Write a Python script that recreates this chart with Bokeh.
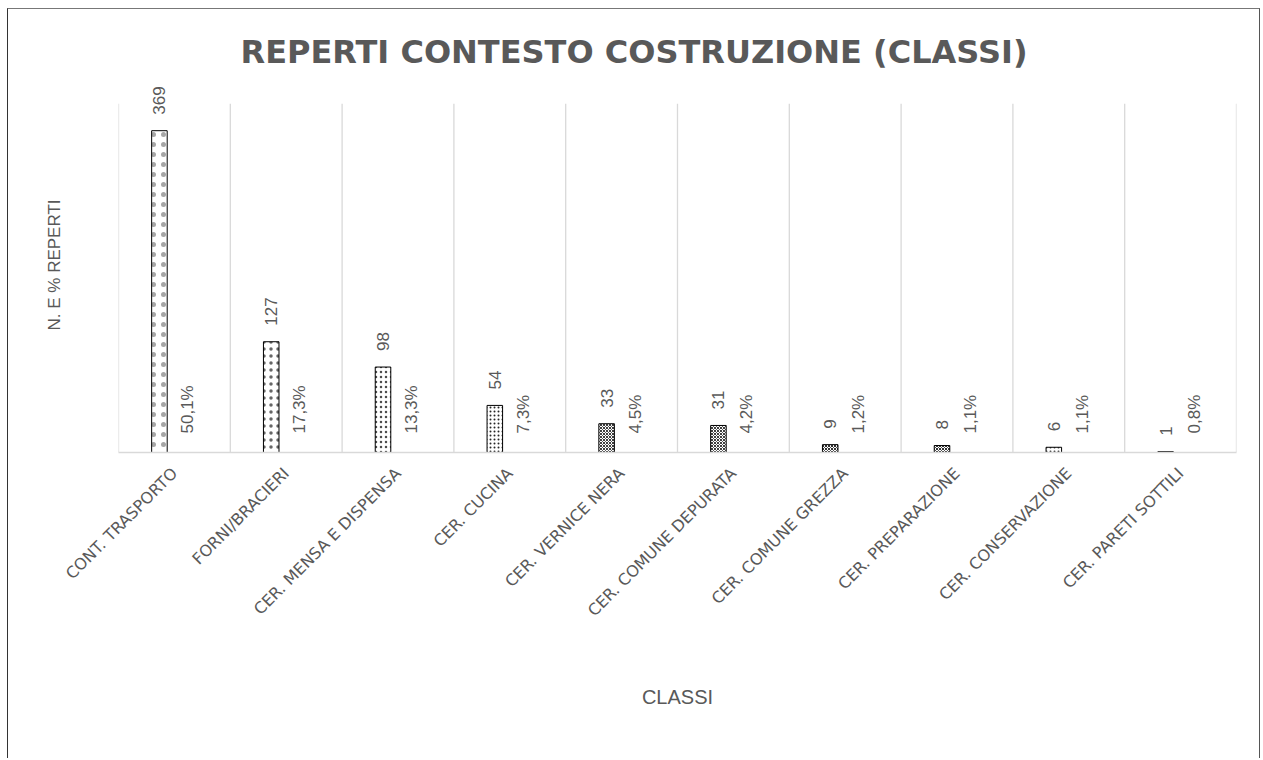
import math
from bokeh.plotting import figure
from bokeh.models import ColumnDataSource, FactorRange, Range1d, FixedTicker, Title, LabelSet
from bokeh.transform import dodge
from bokeh.core.properties import value
from bokeh.embed import file_html
from bokeh.resources import INLINE

# ---- data ----
categories = ["CONT. TRASPORTO", "FORNI/BRACIERI", "CER. MENSA E DISPENSA", "CER. CUCINA",
              "CER. VERNICE NERA", "CER. COMUNE DEPURATA", "CER. COMUNE GREZZA",
              "CER. PREPARAZIONE", "CER. CONSERVAZIONE", "CER. PARETI SOTTILI"]
counts = [369, 127, 98, 54, 33, 31, 9, 8, 6, 1]
percent_labels = ["50,1%", "17,3%", "13,3%", "7,3%", "4,5%", "4,2%", "1,2%", "1,1%", "1,1%", "0,8%"]
percent_values = [0, 0, 0, 0, 0, 0, 0, 0, 0, 0]  # second series drawn as zero-height (label only)

# ---- styles (Excel-like dotted pattern fills) ----
hatch_patterns = ["dot", "dot", "dot", "dot", "diagonal_cross", "diagonal_cross",
                  "diagonal_cross", "diagonal_cross", "dot", "dot"]
hatch_scales = [10, 7, 5, 4, 3, 3, 3, 3, 4, 2]
hatch_weights = [1, 1, 1, 1, 1, 1, 1, 1, 1, 1]
hatch_alphas = [0.35, 0.6, 0.7, 0.85, 0.75, 0.75, 0.8, 0.8, 0.8, 1]

TEXT = "#595959"
GRID = "#d9d9d9"

src = ColumnDataSource(dict(
    cat=categories,
    count=counts,
    count_label=[str(c) for c in counts],
    pct=percent_values,
    pct_label=percent_labels,
    pattern=hatch_patterns,
    hscale=hatch_scales,
    hweight=hatch_weights,
    halpha=hatch_alphas,
))

p = figure(x_range=FactorRange(factors=categories, range_padding=0),
           y_range=Range1d(0, 430),
           width=1253, height=750,
           output_backend="svg", toolbar_location=None,
           min_border_left=110, min_border_right=25,
           min_border_top=68, min_border_bottom=307)
p.styles = {"margin-left": "7px", "margin-top": "8px",
            "border-left": "1px solid #333333", "border-top": "1px solid #777777",
            "border-right": "1px solid #555555"}
p.outline_line_color = None
p.background_fill_color = "white"
p.border_fill_color = "white"

p.title = Title(text="REPERTI CONTESTO COSTRUZIONE (CLASSI)", align="left",
                text_font="DejaVu Sans", text_font_size="32px", text_font_style="bold",
                text_color=TEXT, offset=122, standoff=14)

# grid lines between categories (up to 400)
bounds = list(range(len(categories) + 1))
p.segment(x0=bounds, y0=[0] * len(bounds), x1=bounds, y1=[400] * len(bounds),
          line_color=GRID, line_width=1.3)
p.xgrid.grid_line_color = None
p.ygrid.grid_line_color = None

BAR_OFF = -0.134
PCT_OFF = 0.121
p.vbar(x=dodge("cat", BAR_OFF, range=p.x_range), top="count", width=0.139, source=src,
       fill_color="white", line_color="black", line_width=1,
       hatch_pattern="pattern", hatch_scale="hscale", hatch_weight="hweight",
       hatch_alpha="halpha", hatch_color="black")

vals = LabelSet(x=dodge("cat", BAR_OFF, range=p.x_range), y="count", text="count_label",
                source=src, angle=math.pi / 2, text_align="left", text_baseline="middle",
                y_offset=16, text_font=value("Liberation Sans"), text_font_size="17px",
                text_color=TEXT)
pcts = LabelSet(x=dodge("cat", PCT_OFF, range=p.x_range), y="pct", text="pct_label",
                source=src, angle=math.pi / 2, text_align="left", text_baseline="middle",
                y_offset=19, text_font=value("Liberation Sans"), text_font_size="17px",
                text_color=TEXT)
p.add_layout(vals)
p.add_layout(pcts)

# x axis
xa = p.xaxis[0]
xa.axis_line_color = GRID
xa.axis_line_width = 1.5
xa.major_tick_line_color = None
xa.minor_tick_line_color = None
xa.major_label_orientation = math.pi / 4
xa.major_label_text_font = "DejaVu Sans"
xa.major_label_text_font_size = "16px"
xa.major_label_text_color = TEXT
xa.major_label_standoff = 12
xa.axis_label = "CLASSI"
xa.axis_label_text_font = "Liberation Sans"
xa.axis_label_text_font_size = "20px"
xa.axis_label_text_font_style = "normal"
xa.axis_label_text_color = TEXT
xa.axis_label_standoff = 56

# y axis
ya = p.yaxis[0]
ya.ticker = FixedTicker(ticks=[])
ya.axis_line_color = None
ya.major_tick_line_color = None
ya.minor_tick_line_color = None
ya.major_tick_out = 0
ya.major_label_standoff = 0
ya.axis_label = "N. E % REPERTI"
ya.axis_label_text_font = "Liberation Sans"
ya.axis_label_text_font_size = "17px"
ya.axis_label_text_font_style = "normal"
ya.axis_label_text_color = TEXT
ya.axis_label_standoff = 55

open("out.html", "w").write(file_html(p, INLINE))
